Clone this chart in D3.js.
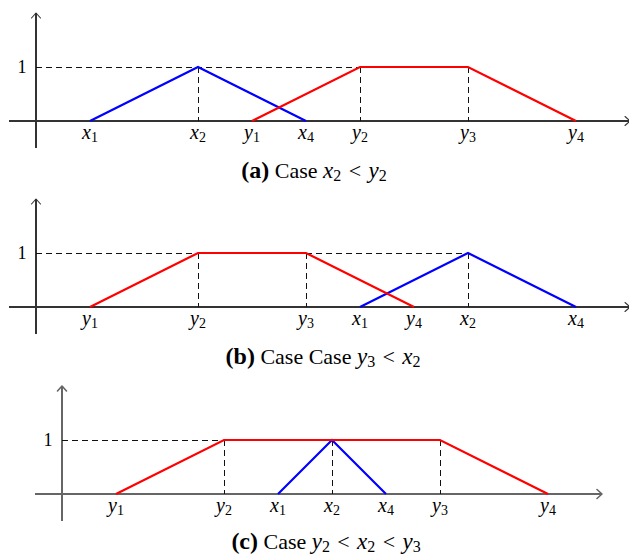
<!DOCTYPE html>
<html><head><meta charset="utf-8">
<script src="https://cdn.jsdelivr.net/npm/d3@7"></script>
<style>html,body{margin:0;padding:0;background:#fff;}svg{display:block;}
svg text{font-family:"Liberation Serif","DejaVu Serif","Times New Roman",serif;}</style>
</head><body>
<svg id="chart" width="629" height="555"></svg>
<script>
// ---- data ----
// panel (a)
const blueA = [[1,0],[3,1],[5,0]];
const redA = [[4,0],[6,1],[8,1],[10,0]];
const ticksA = [1,3,4,5,6,8,10];
const labelsA = [["x","1"],["x","2"],["y","1"],["x","4"],["y","2"],["y","3"],["y","4"]];
const dropsA = [3,6,8];
const levelEndA = 6;
const captionA = ["(a)","Case",[["x","2"],"<",["y","2"]]];
// panel (b)
const blueB = [[6,0],[8,1],[10,0]];
const redB = [[1,0],[3,1],[5,1],[7,0]];
const ticksB = [1,3,5,6,7,8,10];
const labelsB = [["y","1"],["y","2"],["y","3"],["x","1"],["y","4"],["x","2"],["x","4"]];
const dropsB = [3,5,8];
const levelEndB = 8;
const captionB = ["(b)","Case Case",[["y","3"],"<",["x","2"]]];
// panel (c)
const blueC = [[4,0],[5,1],[6,0]];
const redC = [[1,0],[3,1],[7,1],[9,0]];
const ticksC = [1,3,4,5,6,7,9];
const labelsC = [["y","1"],["y","2"],["x","1"],["x","2"],["x","4"],["y","3"],["y","4"]];
const dropsC = [3,5,7];
const levelEndC = 3;
const captionC = ["(c)","Case",[["y","2"],"<",["x","2"],"<",["y","3"]]];

const svg = d3.select("#chart");

function panel(cfg){
  const g = svg.append("g");
  const x = d3.scaleLinear().domain(cfg.xdom).range(cfg.xrange);
  const y = d3.scaleLinear().domain([-0.5,2]).range([cfg.y0 + 27, cfg.y0 - 108]);
  const axisCol = cfg.axisCol, axisW = cfg.axisW;
  const xe = x(cfg.xdom[1]);
  // x axis
  g.append("line").attr("x1",x(cfg.xdom[0])).attr("x2",xe).attr("y1",y(0)).attr("y2",y(0))
    .attr("stroke",axisCol).attr("stroke-width",axisW).attr("shape-rendering","crispEdges");
  g.append("path").attr("d",`M${xe-5},${y(0)-4.5}L${xe},${y(0)}L${xe-5},${y(0)+4.5}`)
    .attr("fill","none").attr("stroke",axisCol).attr("stroke-width",axisW).attr("stroke-linejoin","round").attr("stroke-linecap","round");
  // y axis
  g.append("line").attr("x1",x(0)).attr("x2",x(0)).attr("y1",y(-0.5)).attr("y2",y(2))
    .attr("stroke",axisCol).attr("stroke-width",axisW).attr("shape-rendering","crispEdges");
  g.append("path").attr("d",`M${x(0)-4.5},${y(2)+5}L${x(0)},${y(2)}L${x(0)+4.5},${y(2)+5}`)
    .attr("fill","none").attr("stroke",axisCol).attr("stroke-width",axisW).attr("stroke-linejoin","round").attr("stroke-linecap","round");
  // dashed level line
  g.append("line").attr("x1",x(0)).attr("x2",x(cfg.levelEnd)).attr("y1",y(1)).attr("y2",y(1))
    .attr("stroke","#111").attr("stroke-width",1).attr("stroke-dasharray","6,4").attr("shape-rendering","crispEdges");
  // dashed drops
  g.selectAll("line.drop").data(cfg.drops).enter().append("line").attr("class","drop")
    .attr("x1",d=>x(d)).attr("x2",d=>x(d)).attr("y1",y(1)).attr("y2",y(0))
    .attr("stroke","#111").attr("stroke-width",1).attr("stroke-dasharray","6,4").attr("shape-rendering","crispEdges");
  // "1" label
  g.append("text").attr("x",x(0)-14).attr("y",y(1)+6).attr("text-anchor","middle")
    .attr("font-size",18).text("1");
  // series
  const line = d3.line().x(d=>x(d[0])).y(d=>y(d[1]));
  g.append("path").attr("d",line(cfg.blue)).attr("fill","none").attr("stroke","#0000ff").attr("stroke-width",2.2);
  g.append("path").attr("d",line(cfg.red)).attr("fill","none").attr("stroke","#ff0000").attr("stroke-width",2.2);
  // tick labels
  cfg.ticks.forEach((v,i)=>{
    const lab = cfg.labels[i];
    const t = g.append("text").attr("x",x(v)).attr("y",y(0)+18).attr("text-anchor","middle")
      .attr("font-size",20);
    t.append("tspan").attr("font-style","italic").text(lab[0]);
    t.append("tspan").attr("font-size",14).attr("dy",3).text(lab[1]);
  });
  // caption
  const c = cfg.caption;
  const t = g.append("text").attr("x",cfg.capX).attr("y",cfg.capY).attr("text-anchor","middle")
    .attr("font-size",22);
  t.append("tspan").attr("font-weight","bold").attr("font-size",24).text(c[0]);
  t.append("tspan").text(" " + c[1] + " ");
  c[2].forEach((m,k)=>{
    if (typeof m === "string") {
      t.append("tspan").attr("dy",-3).text("\u2004" + m + "\u2004");
    } else {
      t.append("tspan").attr("font-style","italic").attr("font-size",23).attr("dy",0).text(m[0]);
      t.append("tspan").attr("font-size",16).attr("dy",3).text(m[1]);
    }
  });
}

panel({xdom:[-0.5,11], xrange:[9,630], y0:121, blue:blueA, red:redA, ticks:ticksA, labels:labelsA,
  drops:dropsA, levelEnd:levelEndA, caption:captionA, capX:314, capY:178, axisCol:"#333", axisW:1.1});
panel({xdom:[-0.5,11], xrange:[9,630], y0:307, blue:blueB, red:redB, ticks:ticksB, labels:labelsB,
  drops:dropsB, levelEnd:levelEndB, caption:captionB, capX:323, capY:364, axisCol:"#333", axisW:1.1});
panel({xdom:[-0.5,10], xrange:[35,602], y0:494, blue:blueC, red:redC, ticks:ticksC, labels:labelsC,
  drops:dropsC, levelEnd:levelEndC, caption:captionC, capX:326, capY:549, axisCol:"#666", axisW:1.6});
</script>
</body></html>
